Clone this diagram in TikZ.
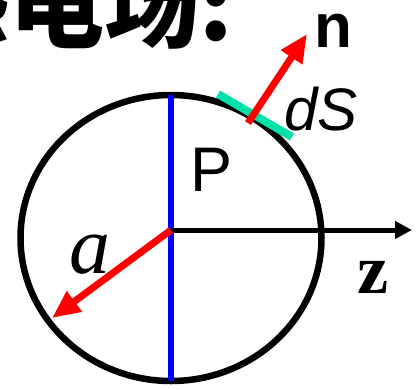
\documentclass[tikz,border=0pt]{standalone}
\usepackage{fontspec}
\setmainfont{Liberation Serif}
\setsansfont{Liberation Sans}
\newfontfamily\cjkfont{Noto Sans CJK SC}
\usepackage{tikz}
\usetikzlibrary{arrows.meta,shapes.geometric}
\definecolor{axisblue}{RGB}{0,0,255}
\definecolor{vecred}{RGB}{255,0,0}
\definecolor{patch}{RGB}{0,226,168}
\tikzset{
  ball/.style={ellipse,draw=black,line width=6.5pt,inner sep=0pt,outer sep=0pt,
    minimum width=301pt,minimum height=286pt},
  diam/.style={draw=axisblue,line width=6pt},
  zaxis/.style={-{Triangle[length=17pt,width=17pt]},draw=black,line width=5pt},
  vec/.style={-{Triangle[length=28pt,width=24pt]},draw=vecred,line width=7pt},
  patchline/.style={draw=patch,line width=8pt},
  lbl/.style={inner sep=0pt,outer sep=0pt},
}

\begin{document}
\begin{tikzpicture}[x=1pt,y=-1pt]
  \useasboundingbox (0,0) rectangle (418,389);
  \clip (0,0) rectangle (418,389);

  \node[lbl,anchor=base west,font=\cjkfont\bfseries\fontsize{95}{100}\selectfont]
    (title) at (-85,40) {感电场:};

  \node[ball] (sphere) at (171,238) {};
  \coordinate (O) at (171,230);
  \coordinate (ztip) at (412,230);
  \coordinate (atip) at (52,318);
  \coordinate (dsA) at (218,94);
  \coordinate (dsB) at (292,137);
  \coordinate (nfoot) at (248,123);
  \coordinate (ntip) at (307,34);

  \node[lbl,font=\sffamily\fontsize{63}{70}\selectfont] (plabel) at (212,170) {P};
  \node[lbl,font=\sffamily\itshape\fontsize{60}{66}\selectfont] (dslabel) at (321,109) {dS};
  \node[lbl,font=\sffamily\bfseries\fontsize{62}{68}\selectfont] (nlabel) at (333,31) {n};
  \node[lbl,font=\itshape\fontsize{82}{90}\selectfont] (alabel) at (90,255) {a};
  \node[lbl,font=\bfseries\fontsize{70}{76}\selectfont] (zlabel) at (373,277) {z};

  \draw[diam] (sphere.north) -- (sphere.south);
  \draw[zaxis] (O) -- (ztip);
  \draw[patchline] (dsA) -- (dsB);
  \draw[vec] (O) -- (atip);
  \draw[vec] (nfoot) -- (ntip);
\end{tikzpicture}
\end{document}
